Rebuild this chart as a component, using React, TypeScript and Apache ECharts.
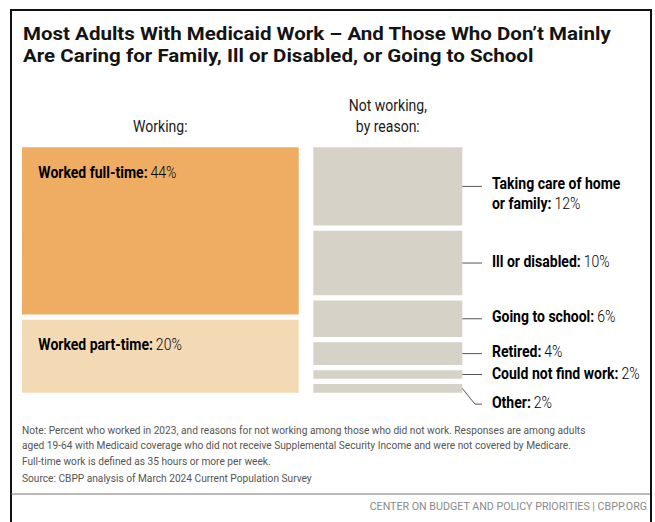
import React, { useEffect, useRef } from "react";
import * as echarts from "echarts";

const titleLines = [
  "Most Adults With Medicaid Work – And Those Who Don’t Mainly",
  "Are Caring for Family, Ill or Disabled, or Going to School",
];
const workingHeader = "Working:";
const notWorkingHeader = "Not working,\nby reason:";
const workingCategories = ["Worked full-time", "Worked part-time"];
const workingValues = [44, 20];
const notWorkingCategories = [
  "Taking care of home\nor family",
  "Ill or disabled",
  "Going to school",
  "Retired",
  "Could not find work",
  "Other",
];
const notWorkingValues = [12, 10, 6, 4, 2, 2];
const noteLines = [
  "Note: Percent who worked in 2023, and reasons for not working among those who did not work. Responses are among adults",
  "aged 19-64 with Medicaid coverage who did not receive Supplemental Security Income and were not covered by Medicare.",
  "Full-time work is defined as 35 hours or more per week.",
];
const sourceLine = "Source: CBPP analysis of March 2024 Current Population Survey";
const footerText = "CENTER ON BUDGET AND POLICY PRIORITIES | CBPP.ORG";

const SANS = 'Roboto, "Noto Sans", sans-serif';

const G1 = { left: 19.35, top: 144.6, width: 282, height: 250.8 };
const G2 = { left: 310.65, top: 144.6, width: 154.3, height: 250.8 };
const GAP = 5.3;
const LBL_SX = 0.85;

const colorsWorking = ["#EFAD63", "#F3DAB5"];
const colorNot = "#D6D2C8";

const sum = (a: number[]) => a.reduce((s, v) => s + v, 0);

export default function App() {
  const ref = useRef<HTMLDivElement>(null);
  useEffect(() => {
    if (!ref.current) return;
    const chart = echarts.init(ref.current, null, { renderer: "svg" });

    const rich = {
      b: { fontFamily: SANS, fontWeight: "bold", fontSize: 16.5, color: "#141414", lineHeight: 20 },
      v: { fontFamily: SANS, fontWeight: 300, fontSize: 16.5, color: "#222", lineHeight: 20 },
    };

    const workingSeries = workingValues.map((v, i) => ({
      type: "bar",
      name: workingCategories[i],
      stack: "w",
      xAxisIndex: 0,
      yAxisIndex: 0,
      barWidth: "100%",
      data: [v],
      itemStyle: { color: colorsWorking[i], borderColor: "#fff", borderWidth: GAP / 2 },
      silent: true,
    }));

    const notSeries = notWorkingValues.map((v, i) => ({
      type: "bar",
      name: notWorkingCategories[i],
      stack: "n",
      xAxisIndex: 1,
      yAxisIndex: 1,
      barWidth: "100%",
      data: [v],
      itemStyle: { color: colorNot, borderColor: "#fff", borderWidth: GAP / 2 },
      silent: true,
    }));

    const axisHidden = { show: false };
    chart.setOption({
      animation: false,
      backgroundColor: "#fff",
      grid: [
        { ...G1, containLabel: false },
        { ...G2, containLabel: false },
      ],
      xAxis: [
        { type: "category", gridIndex: 0, data: ["Working"], ...axisHidden },
        { type: "category", gridIndex: 1, data: ["Not working"], ...axisHidden },
      ],
      yAxis: [
        { type: "value", gridIndex: 0, inverse: true, min: 0, max: sum(workingValues), ...axisHidden },
        { type: "value", gridIndex: 1, inverse: true, min: 0, max: sum(notWorkingValues), ...axisHidden },
      ],
      series: [...workingSeries, ...notSeries],
    });

    const px = (axis: number, v: number) => {
      const p: any = chart.convertToPixel({ yAxisIndex: axis } as any, v as any);
      return Array.isArray(p) ? p[1] : Number(p);
    };

    const graphics: any[] = [];

    // working labels
    let cw = 0;
    workingValues.forEach((v, i) => {
      const top = px(0, cw);
      cw += v;
      graphics.push({
        type: "text",
        x: G1.left + 19,
        y: top + 28,
        scaleX: LBL_SX,
        style: {
          text: `{b|${workingCategories[i]}:} {v|${v}%}`,
          rich,
          verticalAlign: "middle",
        },
        silent: true,
      });
    });

    // not-working labels + leader lines
    const notOffsets = [7.6, -1.6, -1.8, -2.3, -0.5, 14.6];
    const x0 = G2.left + G2.width - GAP / 2;
    const lineStyle = { stroke: "#555", lineWidth: 1 };
    let cum = 0;
    notWorkingValues.forEach((v, i) => {
      const yy = px(1, cum + v / 2);
      cum += v;
      if (!isFinite(yy)) return;
      const parts = notWorkingCategories[i].split("\n");
      const txt = parts
        .map((p, j) => (j === parts.length - 1 ? `{b|${p}:} {v|${v}%}` : `{b|${p}}`))
        .join("\n");
      graphics.push({
        type: "text",
        x: G2.left + G2.width + 27,
        y: yy + notOffsets[i],
        scaleX: LBL_SX,
        style: { text: txt, rich, verticalAlign: "middle" },
        silent: true,
      });
      if (i === notWorkingValues.length - 1) {
        graphics.push({
          type: "line",
          shape: { x1: x0, y1: yy, x2: x0 + 12.7, y2: yy + 15.7 },
          style: lineStyle,
          silent: true,
        });
        graphics.push({
          type: "line",
          shape: { x1: x0 + 12.7, y1: yy + 15.7, x2: x0 + 19.7, y2: yy + 15.7 },
          style: lineStyle,
          silent: true,
        });
      } else {
        graphics.push({
          type: "line",
          shape: { x1: x0, y1: yy, x2: x0 + 19.7, y2: yy },
          style: lineStyle,
          silent: true,
        });
      }
    });

    const texts: any[] = [
      { type: "rect", shape: { x: 11, y: 10, width: 640, height: 600 }, style: { fill: null, stroke: "#111", lineWidth: 2 }, silent: true },
      ...titleLines.map((t, i) => ({
        type: "text",
        x: 23,
        y: 34 + i * 22,
        scaleX: 1.08,
        style: { text: t, font: `bold 19px ${SANS}`, fill: "#141414", verticalAlign: "middle" },
        silent: true,
      })),
      {
        type: "text",
        x: G1.left + G1.width / 2,
        y: 127,
        scaleX: 0.85,
        style: { text: workingHeader, font: `16.5px ${SANS}`, fill: "#1a1a1a", align: "center", verticalAlign: "middle" },
        silent: true,
      },
      {
        type: "text",
        x: G2.left + G2.width / 2,
        y: 116.5,
        scaleX: 0.85,
        style: { text: notWorkingHeader, font: `16.5px ${SANS}`, fill: "#1a1a1a", align: "center", verticalAlign: "middle", lineHeight: 21 },
        silent: true,
      },
      ...noteLines.map((t, i) => ({
        type: "text",
        x: 22,
        y: 430 + i * 15.5,
        scaleX: 0.925,
        style: { text: t, font: `11px ${SANS}`, fill: "#555", verticalAlign: "middle" },
        silent: true,
      })),
      {
        type: "text",
        x: 22,
        y: 478,
        scaleX: 0.925,
        style: { text: sourceLine, font: `11px ${SANS}`, fill: "#555", verticalAlign: "middle" },
        silent: true,
      },
      { type: "line", shape: { x1: 11, y1: 494, x2: 650, y2: 494 }, style: { stroke: "#777", lineWidth: 1.2 }, silent: true },
      {
        type: "text",
        x: 647,
        y: 506,
        scaleX: 0.972,
        style: { text: footerText, font: `11px ${SANS}`, fill: "#8a8a8a", align: "right", verticalAlign: "middle" },
        silent: true,
      },
    ];

    chart.setOption({
      graphic: [...texts, ...graphics].map((g) => ({ ...g, z: 100 })),
    });

    return () => chart.dispose();
  }, []);

  return (
    <div
      ref={ref}
      style={{ position: "fixed", left: 0, top: 0, width: 655, height: 522, background: "#fff" }}
    />
  );
}
